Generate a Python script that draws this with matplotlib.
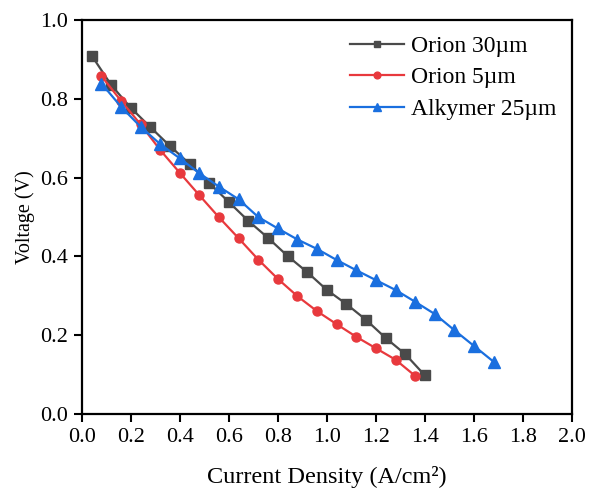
import matplotlib
matplotlib.use("Agg")
import matplotlib.pyplot as plt
import numpy as np

plt.rcParams["font.family"] = ["Liberation Serif", "DejaVu Serif"]

# polarization curves (current density A/cm2, voltage V)
orion30_j = [0.04, 0.12, 0.20, 0.28, 0.36, 0.44, 0.52, 0.60, 0.68, 0.76,
             0.84, 0.92, 1.00, 1.08, 1.16, 1.24, 1.32, 1.40]
orion30_v = [0.910, 0.835, 0.777, 0.728, 0.680, 0.635, 0.586, 0.538, 0.490, 0.447,
             0.401, 0.360, 0.315, 0.279, 0.239, 0.193, 0.152, 0.098]

orion5_j = [0.08, 0.16, 0.24, 0.32, 0.40, 0.48, 0.56, 0.64, 0.72, 0.80,
            0.88, 0.96, 1.04, 1.12, 1.20, 1.28, 1.36]
orion5_v = [0.858, 0.795, 0.735, 0.670, 0.612, 0.555, 0.499, 0.446, 0.392, 0.343,
            0.299, 0.261, 0.228, 0.196, 0.167, 0.138, 0.097]

alky_j = [0.08, 0.16, 0.24, 0.32, 0.40, 0.48, 0.56, 0.64, 0.72, 0.80, 0.88,
          0.96, 1.04, 1.12, 1.20, 1.28, 1.36, 1.44, 1.52, 1.60, 1.68]
alky_v = [0.839, 0.780, 0.729, 0.685, 0.649, 0.611, 0.577, 0.545, 0.500, 0.471, 0.443,
          0.419, 0.391, 0.365, 0.340, 0.315, 0.285, 0.254, 0.213, 0.173, 0.133]

labels = ["Orion 30µm", "Orion 5µm", "Alkymer 25µm"]
xticks = np.arange(0, 2.01, 0.2)
yticks = np.arange(0, 1.01, 0.2)

fig = plt.figure(figsize=(5.89, 4.90), dpi=100)
ax = fig.add_axes([0.139, 0.155, 0.832, 0.804])

ax.plot(orion30_j, orion30_v, "-s", color="#4a4a4a", lw=1.6, ms=6.5, label=labels[0])
ax.plot(orion5_j, orion5_v, "-o", color="#e8393d", lw=1.6, ms=6.5, label=labels[1])
ax.plot(alky_j, alky_v, "-^", color="#1a6fdf", lw=1.6, ms=8, label=labels[2])

ax.set_xlim(0, 2.0)
ax.set_ylim(0, 1.0)
ax.set_xticks(xticks)
ax.set_yticks(yticks)
ax.set_xticklabels(["%.1f" % t for t in xticks])
ax.set_yticklabels(["%.1f" % t for t in yticks])
ax.tick_params(direction="out", length=6, width=1.5, labelsize=16, pad=4)
for s in ax.spines.values():
    s.set_linewidth(1.6)

ax.set_xlabel("Current Density (A/cm²)", fontsize=17.5, labelpad=14)
ax.set_ylabel("Voltage (V)", fontsize=14.5, labelpad=4)

ax.legend(loc="upper right", frameon=False, fontsize=17, handlelength=2.3,
          handletextpad=0.3, labelspacing=0.42, borderaxespad=0.25,
          markerscale=0.75, bbox_to_anchor=(1.0, 1.0))

fig.savefig("out.png", dpi=100)
